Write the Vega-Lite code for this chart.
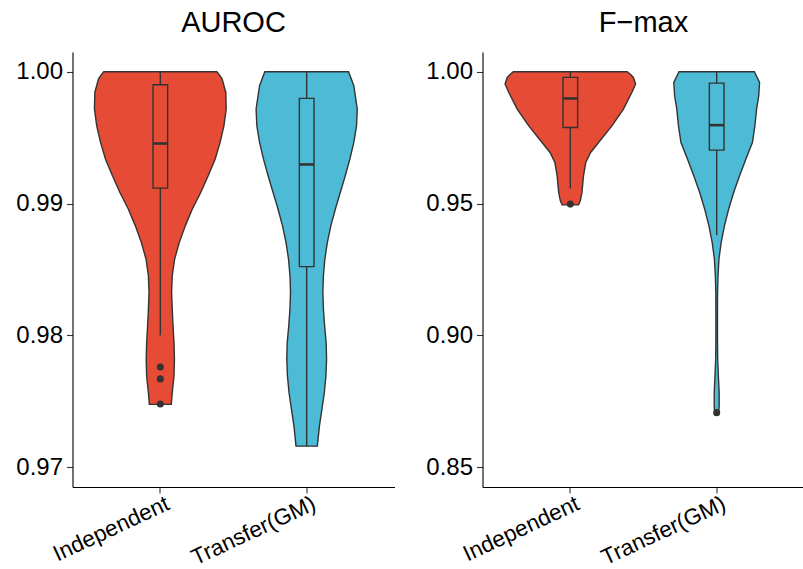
{
  "$schema": "https://vega.github.io/schema/vega-lite/v6.json",
  "background": "white",
  "padding": {"left": 15.5, "top": 9, "right": 0, "bottom": 0},
  "spacing": 31,
  "config": {
    "view": {"stroke": null},
    "font": "Liberation Sans",
    "axis": {
      "domainColor": "#000000",
      "domainWidth": 1.1,
      "tickColor": "#333333",
      "tickWidth": 1.1,
      "tickSize": 6,
      "labelFont": "Liberation Sans",
      "labelFontSize": 24,
      "labelColor": "#000000",
      "labelPadding": 4,
      "grid": false
    },
    "title": {"font": "Liberation Sans", "fontSize": 29, "fontWeight": "normal", "color": "#000000", "anchor": "middle", "offset": 14}
  },
  "datasets": {
    "violins": [
      {"metric": "AUROC", "group": "Independent", "value": 1.0, "density": 0.772},
      {"metric": "AUROC", "group": "Independent", "value": 0.99975, "density": 0.81},
      {"metric": "AUROC", "group": "Independent", "value": 0.99945, "density": 0.845},
      {"metric": "AUROC", "group": "Independent", "value": 0.99843, "density": 0.895},
      {"metric": "AUROC", "group": "Independent", "value": 0.99717, "density": 0.9},
      {"metric": "AUROC", "group": "Independent", "value": 0.9959, "density": 0.869},
      {"metric": "AUROC", "group": "Independent", "value": 0.99464, "density": 0.817},
      {"metric": "AUROC", "group": "Independent", "value": 0.99337, "density": 0.749},
      {"metric": "AUROC", "group": "Independent", "value": 0.99211, "density": 0.654},
      {"metric": "AUROC", "group": "Independent", "value": 0.99084, "density": 0.552},
      {"metric": "AUROC", "group": "Independent", "value": 0.98957, "density": 0.436},
      {"metric": "AUROC", "group": "Independent", "value": 0.98831, "density": 0.341},
      {"metric": "AUROC", "group": "Independent", "value": 0.98704, "density": 0.259},
      {"metric": "AUROC", "group": "Independent", "value": 0.98578, "density": 0.195},
      {"metric": "AUROC", "group": "Independent", "value": 0.98451, "density": 0.163},
      {"metric": "AUROC", "group": "Independent", "value": 0.98325, "density": 0.154},
      {"metric": "AUROC", "group": "Independent", "value": 0.98198, "density": 0.163},
      {"metric": "AUROC", "group": "Independent", "value": 0.98072, "density": 0.174},
      {"metric": "AUROC", "group": "Independent", "value": 0.97945, "density": 0.187},
      {"metric": "AUROC", "group": "Independent", "value": 0.97818, "density": 0.193},
      {"metric": "AUROC", "group": "Independent", "value": 0.97692, "density": 0.187},
      {"metric": "AUROC", "group": "Independent", "value": 0.97565, "density": 0.163},
      {"metric": "AUROC", "group": "Independent", "value": 0.97477, "density": 0.15},

      {"metric": "AUROC", "group": "Transfer(GM)", "value": 1.0, "density": 0.572},
      {"metric": "AUROC", "group": "Transfer(GM)", "value": 0.99894, "density": 0.644},
      {"metric": "AUROC", "group": "Transfer(GM)", "value": 0.99717, "density": 0.691},
      {"metric": "AUROC", "group": "Transfer(GM)", "value": 0.9959, "density": 0.681},
      {"metric": "AUROC", "group": "Transfer(GM)", "value": 0.99464, "density": 0.644},
      {"metric": "AUROC", "group": "Transfer(GM)", "value": 0.99337, "density": 0.59},
      {"metric": "AUROC", "group": "Transfer(GM)", "value": 0.99211, "density": 0.527},
      {"metric": "AUROC", "group": "Transfer(GM)", "value": 0.99084, "density": 0.459},
      {"metric": "AUROC", "group": "Transfer(GM)", "value": 0.98957, "density": 0.391},
      {"metric": "AUROC", "group": "Transfer(GM)", "value": 0.98831, "density": 0.33},
      {"metric": "AUROC", "group": "Transfer(GM)", "value": 0.98704, "density": 0.282},
      {"metric": "AUROC", "group": "Transfer(GM)", "value": 0.98578, "density": 0.248},
      {"metric": "AUROC", "group": "Transfer(GM)", "value": 0.98451, "density": 0.228},
      {"metric": "AUROC", "group": "Transfer(GM)", "value": 0.98325, "density": 0.221},
      {"metric": "AUROC", "group": "Transfer(GM)", "value": 0.98198, "density": 0.229},
      {"metric": "AUROC", "group": "Transfer(GM)", "value": 0.98072, "density": 0.245},
      {"metric": "AUROC", "group": "Transfer(GM)", "value": 0.97945, "density": 0.266},
      {"metric": "AUROC", "group": "Transfer(GM)", "value": 0.97818, "density": 0.272},
      {"metric": "AUROC", "group": "Transfer(GM)", "value": 0.97692, "density": 0.263},
      {"metric": "AUROC", "group": "Transfer(GM)", "value": 0.97565, "density": 0.241},
      {"metric": "AUROC", "group": "Transfer(GM)", "value": 0.97439, "density": 0.208},
      {"metric": "AUROC", "group": "Transfer(GM)", "value": 0.97312, "density": 0.174},
      {"metric": "AUROC", "group": "Transfer(GM)", "value": 0.9716, "density": 0.146},

      {"metric": "F-max", "group": "Independent", "value": 1.0, "density": 0.779},
      {"metric": "F-max", "group": "Independent", "value": 0.999, "density": 0.824},
      {"metric": "F-max", "group": "Independent", "value": 0.99786, "density": 0.862},
      {"metric": "F-max", "group": "Independent", "value": 0.99533, "density": 0.892},
      {"metric": "F-max", "group": "Independent", "value": 0.99216, "density": 0.841},
      {"metric": "F-max", "group": "Independent", "value": 0.98583, "density": 0.726},
      {"metric": "F-max", "group": "Independent", "value": 0.9795, "density": 0.568},
      {"metric": "F-max", "group": "Independent", "value": 0.97318, "density": 0.386},
      {"metric": "F-max", "group": "Independent", "value": 0.96938, "density": 0.277},
      {"metric": "F-max", "group": "Independent", "value": 0.96558, "density": 0.211},
      {"metric": "F-max", "group": "Independent", "value": 0.96052, "density": 0.18},
      {"metric": "F-max", "group": "Independent", "value": 0.9542, "density": 0.159},
      {"metric": "F-max", "group": "Independent", "value": 0.95103, "density": 0.136},
      {"metric": "F-max", "group": "Independent", "value": 0.94951, "density": 0.112},

      {"metric": "F-max", "group": "Transfer(GM)", "value": 1.0, "density": 0.515},
      {"metric": "F-max", "group": "Transfer(GM)", "value": 0.99595, "density": 0.586},
      {"metric": "F-max", "group": "Transfer(GM)", "value": 0.9909, "density": 0.575},
      {"metric": "F-max", "group": "Transfer(GM)", "value": 0.98583, "density": 0.545},
      {"metric": "F-max", "group": "Transfer(GM)", "value": 0.9795, "density": 0.522},
      {"metric": "F-max", "group": "Transfer(GM)", "value": 0.97318, "density": 0.488},
      {"metric": "F-max", "group": "Transfer(GM)", "value": 0.96686, "density": 0.398},
      {"metric": "F-max", "group": "Transfer(GM)", "value": 0.96053, "density": 0.313},
      {"metric": "F-max", "group": "Transfer(GM)", "value": 0.9542, "density": 0.232},
      {"metric": "F-max", "group": "Transfer(GM)", "value": 0.94787, "density": 0.163},
      {"metric": "F-max", "group": "Transfer(GM)", "value": 0.94155, "density": 0.106},
      {"metric": "F-max", "group": "Transfer(GM)", "value": 0.93522, "density": 0.061},
      {"metric": "F-max", "group": "Transfer(GM)", "value": 0.9289, "density": 0.031},
      {"metric": "F-max", "group": "Transfer(GM)", "value": 0.92257, "density": 0.018},
      {"metric": "F-max", "group": "Transfer(GM)", "value": 0.91624, "density": 0.012},
      {"metric": "F-max", "group": "Transfer(GM)", "value": 0.90991, "density": 0.011},
      {"metric": "F-max", "group": "Transfer(GM)", "value": 0.90358, "density": 0.011},
      {"metric": "F-max", "group": "Transfer(GM)", "value": 0.89725, "density": 0.011},
      {"metric": "F-max", "group": "Transfer(GM)", "value": 0.89092, "density": 0.014},
      {"metric": "F-max", "group": "Transfer(GM)", "value": 0.8846, "density": 0.023},
      {"metric": "F-max", "group": "Transfer(GM)", "value": 0.87827, "density": 0.034},
      {"metric": "F-max", "group": "Transfer(GM)", "value": 0.87321, "density": 0.034},
      {"metric": "F-max", "group": "Transfer(GM)", "value": 0.87068, "density": 0.027}
    ],
    "boxes": [
      {"metric": "AUROC", "group": "Independent", "lower": 0.98, "q1": 0.99117, "median": 0.99456, "q3": 0.99902, "upper": 1.0},
      {"metric": "AUROC", "group": "Transfer(GM)", "lower": 0.9716, "q1": 0.98522, "median": 0.99297, "q3": 0.99798, "upper": 1.0},
      {"metric": "F-max", "group": "Independent", "lower": 0.9557, "q1": 0.97888, "median": 0.98988, "q3": 0.99786, "upper": 1.0},
      {"metric": "F-max", "group": "Transfer(GM)", "lower": 0.938, "q1": 0.97027, "median": 0.97976, "q3": 0.99571, "upper": 1.0}
    ],
    "outliers": [
      {"metric": "AUROC", "group": "Independent", "value": 0.9776},
      {"metric": "AUROC", "group": "Independent", "value": 0.9767},
      {"metric": "AUROC", "group": "Independent", "value": 0.9748},
      {"metric": "F-max", "group": "Independent", "value": 0.9498},
      {"metric": "F-max", "group": "Transfer(GM)", "value": 0.8707}
    ]
  },
  "hconcat": [
    {
      "title": "AUROC",
      "width": 322,
      "height": 435,
      "resolve": {"scale": {"x": "independent"}},
      "layer": [
        {
          "data": {"name": "violins"},
          "transform": [{"filter": "datum.metric === 'AUROC' && datum.group === 'Independent'"}],
          "mark": {"type": "area", "orient": "horizontal", "fill": "#E64B35", "stroke": "#333333", "strokeWidth": 1.4},
          "encoding": {
            "y": {"field": "value", "type": "quantitative", "title": null,
                  "scale": {"domain": [0.9685, 1.0015], "nice": false, "zero": false},
                  "axis": {"values": [0.97, 0.98, 0.99, 1.0], "format": ".2f"}},
            "x": {"field": "density", "type": "quantitative", "stack": "center",
                  "scale": {"domain": [-0.15, 2.05], "nice": false, "zero": false}, "axis": null}
          }
        },
        {
          "data": {"name": "violins"},
          "transform": [{"filter": "datum.metric === 'AUROC' && datum.group === 'Transfer(GM)'"}],
          "mark": {"type": "area", "orient": "horizontal", "fill": "#4DBBD5", "stroke": "#333333", "strokeWidth": 1.4},
          "encoding": {
            "y": {"field": "value", "type": "quantitative", "title": null,
                  "scale": {"domain": [0.9685, 1.0015], "nice": false, "zero": false}},
            "x": {"field": "density", "type": "quantitative", "stack": "center",
                  "scale": {"domain": [-1.2545, 0.9455], "nice": false, "zero": false}, "axis": null}
          }
        },
        {
          "layer": [
            {
              "data": {"name": "boxes"},
              "transform": [{"filter": "datum.metric === 'AUROC'"}],
              "mark": {"type": "rule", "color": "#333333", "strokeWidth": 1.4},
              "encoding": {
                "x": {"field": "group", "type": "nominal", "title": null,
                      "scale": {"type": "band", "domain": ["Independent", "Transfer(GM)"], "paddingInner": 0.9, "paddingOuter": 0.55},
                      "axis": {"orient": "bottom", "labelAngle": -25, "labelAlign": "right", "labelBaseline": "top", "bandPosition": 0.5, "labelOffset": 3, "labelFontSize": 22.5, "labelPadding": -1}},
                "y": {"field": "lower", "type": "quantitative", "title": null,
                      "scale": {"domain": [0.9685, 1.0015], "nice": false, "zero": false}},
                "y2": {"field": "upper"}
              }
            },
            {
              "data": {"name": "boxes"},
              "transform": [{"filter": "datum.metric === 'AUROC'"}],
              "mark": {"type": "bar", "stroke": "#333333", "strokeWidth": 1.4},
              "encoding": {
                "x": {"field": "group", "type": "nominal", "title": null},
                "y": {"field": "q1", "type": "quantitative", "title": null,
                      "scale": {"domain": [0.9685, 1.0015], "nice": false, "zero": false}},
                "y2": {"field": "q3"},
                "color": {"field": "group", "type": "nominal",
                          "scale": {"domain": ["Independent", "Transfer(GM)"], "range": ["#E64B35", "#4DBBD5"]}, "legend": null}
              }
            },
            {
              "data": {"name": "boxes"},
              "transform": [{"filter": "datum.metric === 'AUROC'"}],
              "mark": {"type": "tick", "color": "#333333", "orient": "horizontal", "thickness": 2.6, "size": 14.6, "opacity": 1},
              "encoding": {
                "x": {"field": "group", "type": "nominal", "title": null},
                "y": {"field": "median", "type": "quantitative", "title": null,
                      "scale": {"domain": [0.9685, 1.0015], "nice": false, "zero": false}}
              }
            },
            {
              "data": {"name": "outliers"},
              "transform": [{"filter": "datum.metric === 'AUROC'"}],
              "mark": {"type": "point", "filled": true, "color": "#333333", "size": 50, "opacity": 1},
              "encoding": {
                "x": {"field": "group", "type": "nominal", "title": null},
                "y": {"field": "value", "type": "quantitative", "title": null,
                      "scale": {"domain": [0.9685, 1.0015], "nice": false, "zero": false}}
              }
            }
          ]
        }
      ]
    },
    {
      "title": "F\u2212max",
      "width": 322,
      "height": 435,
      "resolve": {"scale": {"x": "independent"}},
      "layer": [
        {
          "data": {"name": "violins"},
          "transform": [{"filter": "datum.metric === 'F-max' && datum.group === 'Independent'"}],
          "mark": {"type": "area", "orient": "horizontal", "fill": "#E64B35", "stroke": "#333333", "strokeWidth": 1.4},
          "encoding": {
            "y": {"field": "value", "type": "quantitative", "title": null,
                  "scale": {"domain": [0.8425, 1.0075], "nice": false, "zero": false},
                  "axis": {"values": [0.85, 0.9, 0.95, 1.0], "format": ".2f"}},
            "x": {"field": "density", "type": "quantitative", "stack": "center",
                  "scale": {"domain": [-0.154, 2.046], "nice": false, "zero": false}, "axis": null}
          }
        },
        {
          "data": {"name": "violins"},
          "transform": [{"filter": "datum.metric === 'F-max' && datum.group === 'Transfer(GM)'"}],
          "mark": {"type": "area", "orient": "horizontal", "fill": "#4DBBD5", "stroke": "#333333", "strokeWidth": 1.4},
          "encoding": {
            "y": {"field": "value", "type": "quantitative", "title": null,
                  "scale": {"domain": [0.8425, 1.0075], "nice": false, "zero": false}},
            "x": {"field": "density", "type": "quantitative", "stack": "center",
                  "scale": {"domain": [-1.307, 0.893], "nice": false, "zero": false}, "axis": null}
          }
        },
        {
          "layer": [
            {
              "data": {"name": "boxes"},
              "transform": [{"filter": "datum.metric === 'F-max'"}],
              "mark": {"type": "rule", "color": "#333333", "strokeWidth": 1.4},
              "encoding": {
                "x": {"field": "group", "type": "nominal", "title": null,
                      "scale": {"type": "band", "domain": ["Independent", "Transfer(GM)"], "paddingInner": 0.9, "paddingOuter": 0.55},
                      "axis": {"orient": "bottom", "labelAngle": -25, "labelAlign": "right", "labelBaseline": "top", "bandPosition": 0.5, "labelOffset": 3, "labelFontSize": 22.5, "labelPadding": -1}},
                "y": {"field": "lower", "type": "quantitative", "title": null,
                      "scale": {"domain": [0.8425, 1.0075], "nice": false, "zero": false}},
                "y2": {"field": "upper"}
              }
            },
            {
              "data": {"name": "boxes"},
              "transform": [{"filter": "datum.metric === 'F-max'"}],
              "mark": {"type": "bar", "stroke": "#333333", "strokeWidth": 1.4},
              "encoding": {
                "x": {"field": "group", "type": "nominal", "title": null},
                "y": {"field": "q1", "type": "quantitative", "title": null,
                      "scale": {"domain": [0.8425, 1.0075], "nice": false, "zero": false}},
                "y2": {"field": "q3"},
                "color": {"field": "group", "type": "nominal",
                          "scale": {"domain": ["Independent", "Transfer(GM)"], "range": ["#E64B35", "#4DBBD5"]}, "legend": null}
              }
            },
            {
              "data": {"name": "boxes"},
              "transform": [{"filter": "datum.metric === 'F-max'"}],
              "mark": {"type": "tick", "color": "#333333", "orient": "horizontal", "thickness": 2.6, "size": 14.6, "opacity": 1},
              "encoding": {
                "x": {"field": "group", "type": "nominal", "title": null},
                "y": {"field": "median", "type": "quantitative", "title": null,
                      "scale": {"domain": [0.8425, 1.0075], "nice": false, "zero": false}}
              }
            },
            {
              "data": {"name": "outliers"},
              "transform": [{"filter": "datum.metric === 'F-max'"}],
              "mark": {"type": "point", "filled": true, "color": "#333333", "size": 50, "opacity": 1},
              "encoding": {
                "x": {"field": "group", "type": "nominal", "title": null},
                "y": {"field": "value", "type": "quantitative", "title": null,
                      "scale": {"domain": [0.8425, 1.0075], "nice": false, "zero": false}}
              }
            }
          ]
        }
      ]
    }
  ]
}
